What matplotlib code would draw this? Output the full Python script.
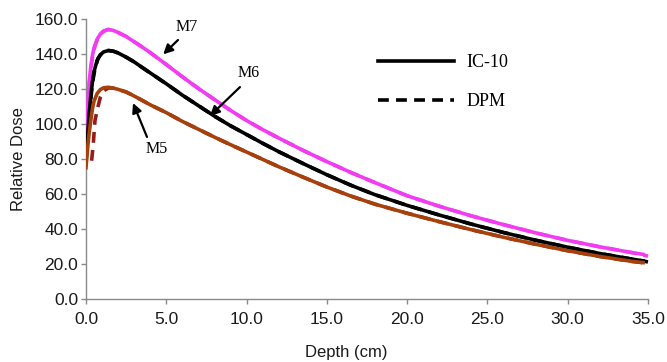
# depth dose curves, IC-10 measurement vs DPM calculation, three machines

import numpy as np
import matplotlib.pyplot as plt

depth = [0.0, 0.1, 0.2, 0.3, 0.4, 0.5, 0.7, 0.9, 1.1, 1.4, 1.7, 2.0, 2.5, 3.0, 3.5, 4.0,
         5.0, 6.0, 7.0, 8.0, 9.0, 10.0, 11.0, 12.0, 13.5, 15.0, 16.5, 18.0, 20.0, 22.0,
         24.0, 26.0, 28.0, 30.0, 32.0, 34.0, 34.7]

m7_ic = [92, 110, 124, 133, 139, 143.5, 148.5, 151.5, 153.2, 154, 153.5, 152.3, 150, 147,
         144, 140.8, 134, 127, 120.3, 114, 107.8, 102, 96.8, 92, 85, 78.5, 72.3, 66.5, 59,
         53, 47.5, 42.5, 37.8, 33.5, 29.8, 26.5, 25.5]
m6_ic = [77, 93, 106, 116, 124, 130, 136.5, 139.6, 141.2, 142, 141.6, 140.6, 138.2, 135.5,
         132.3, 129.2, 123, 116.5, 110.5, 104.5, 99, 94, 89, 84.2, 77.5, 71, 65, 59.6, 53.5,
         48, 42.8, 38, 33.6, 29.6, 26, 22.8, 21.8]
m5_ic = [75, 86, 95, 102, 108.5, 113, 117.5, 119.7, 120.7, 121, 120.5, 119.8, 118.3, 116,
         113.5, 111, 106.5, 101.5, 97, 92.5, 88.2, 84, 79.8, 75.6, 69.7, 64, 58.8, 54.2, 49,
         44.2, 39.6, 35.3, 31.3, 27.6, 24.3, 21.5, 20.8]

depth_dpm = [0.1, 0.2, 0.35, 0.45, 0.56, 0.75, 0.9, 1.1, 1.4, 1.7, 2.0, 2.5, 3.0, 3.5, 4.0,
             5.0, 6.0, 7.0, 8.0, 9.0, 10.0, 11.0, 12.0, 13.5, 15.0, 16.5, 18.0, 20.0, 22.0,
             24.0, 26.0, 28.0, 30.0, 32.0, 34.0, 35.0]

m7_dpm = [108, 122, 135, 140.5, 144.5, 149.5, 151.3, 153, 154, 153.5, 152.3, 150, 147,
          144, 140.8, 134, 127, 120.3, 114, 107.8, 102, 96.8, 92, 85, 78.5, 72.3, 66.5, 59,
          53, 47.5, 42.5, 37.8, 33.5, 29.8, 26.5, 24.5]
m6_dpm = [91, 104, 119, 126, 131.5, 137.5, 139.5, 141, 142, 141.6, 140.6, 138.2, 135.5,
          132.3, 129.2, 123, 116.5, 110.5, 104.5, 99, 94, 89, 84.2, 77.5, 71, 65, 59.6, 53.5,
          48, 42.8, 38, 33.6, 29.6, 26, 22.8, 21.2]
m5_dpm = [75, 75, 79, 88, 102, 110, 115.5, 119, 120.6, 120.5, 119.8, 118.3, 116,
          113.5, 111, 106.5, 101.5, 97, 92.5, 88.2, 84, 79.8, 75.6, 69.7, 64, 58.8, 54.2, 49,
          44.2, 39.6, 35.3, 31.3, 27.6, 24.3, 21.5, 20.4]

x_ticks = [0, 5, 10, 15, 20, 25, 30, 35]
y_ticks = [0, 20, 40, 60, 80, 100, 120, 140, 160]

magenta = "#f23cf2"
brown = "#a8400c"
dpm_red = "#951c1c"
dash = (0, (3, 2))

plt.rcParams['font.family'] = ['Liberation Sans', 'DejaVu Sans']

fig = plt.figure(figsize=(6.67, 3.62), dpi=100)
ax = fig.add_axes([0.1289, 0.174, 0.8426, 0.7735])

# DPM dashed underneath, IC-10 solid on top
ax.plot(depth_dpm[1:], m7_dpm[1:], color=magenta, lw=2.6, linestyle=dash, clip_on=False, zorder=2)
dpm_line, = ax.plot(depth_dpm[1:], m6_dpm[1:], color="black", lw=2.6, linestyle=dash, clip_on=False, zorder=2)
ax.plot(depth_dpm[2:], m5_dpm[2:], color=dpm_red, lw=2.6, linestyle=dash, clip_on=False, zorder=2)

ax.plot(depth, m7_ic, color=magenta, lw=2.6, zorder=3)
ic_line, = ax.plot(depth, m6_ic, color="black", lw=2.6, zorder=3)
ax.plot(depth, m5_ic, color=brown, lw=2.6, zorder=3)

ax.set_xlim(0, 35)
ax.set_ylim(0, 160)
ax.set_xticks(x_ticks)
ax.set_yticks(y_ticks)
ax.set_xticklabels([f"{v:.1f}" for v in x_ticks])
ax.set_yticklabels([f"{v:.1f}" for v in y_ticks])

for side in ["top", "right"]:
    ax.spines[side].set_visible(False)
for side in ["left", "bottom"]:
    ax.spines[side].set_color("#8a8a8a")
    ax.spines[side].set_linewidth(1.0)

ax.tick_params(axis="both", colors="#8a8a8a", labelcolor="#1a1a1a", labelsize=12.5,
               length=3.6, width=1.0, direction="out")
ax.tick_params(axis="x", pad=6)
ax.tick_params(axis="y", pad=2)

ax.set_xlabel("Depth (cm)", fontsize=12, color="#1a1a1a")
ax.set_ylabel("Relative Dose", fontsize=12, color="#1a1a1a")
ax.xaxis.set_label_coords(0.463, -0.165)
ax.yaxis.set_label_coords(-0.106, 0.5)

serif = "Liberation Serif"
arrow = dict(arrowstyle="-|>", color="black", lw=1.6, mutation_scale=14, shrinkA=0, shrinkB=0)
ax.annotate("", xy=(4.81, 139.8), xytext=(5.73, 148), arrowprops=arrow)
ax.text(6.29, 155.4, "M7", fontsize=11.5, family=serif, ha="center", va="center")
ax.annotate("", xy=(7.72, 104.6), xytext=(9.59, 121.1), arrowprops=arrow)
ax.text(10.15, 129.1, "M6", fontsize=11.5, family=serif, ha="center", va="center")
ax.annotate("", xy=(2.93, 112), xytext=(3.8, 92.6), arrowprops=arrow)
ax.text(4.42, 85.7, "M5", fontsize=11.5, family=serif, ha="center", va="center")

leg = ax.legend([ic_line, dpm_line], ["IC-10", "DPM"], loc="center left",
                bbox_to_anchor=(378 / 667, 1 - 82 / 362), bbox_transform=fig.transFigure,
                frameon=False, borderpad=0, borderaxespad=0, handlelength=4.2,
                handletextpad=0.7, labelspacing=1.2, prop={"family": serif, "size": 13})

plt.savefig("out.png", dpi=100)
